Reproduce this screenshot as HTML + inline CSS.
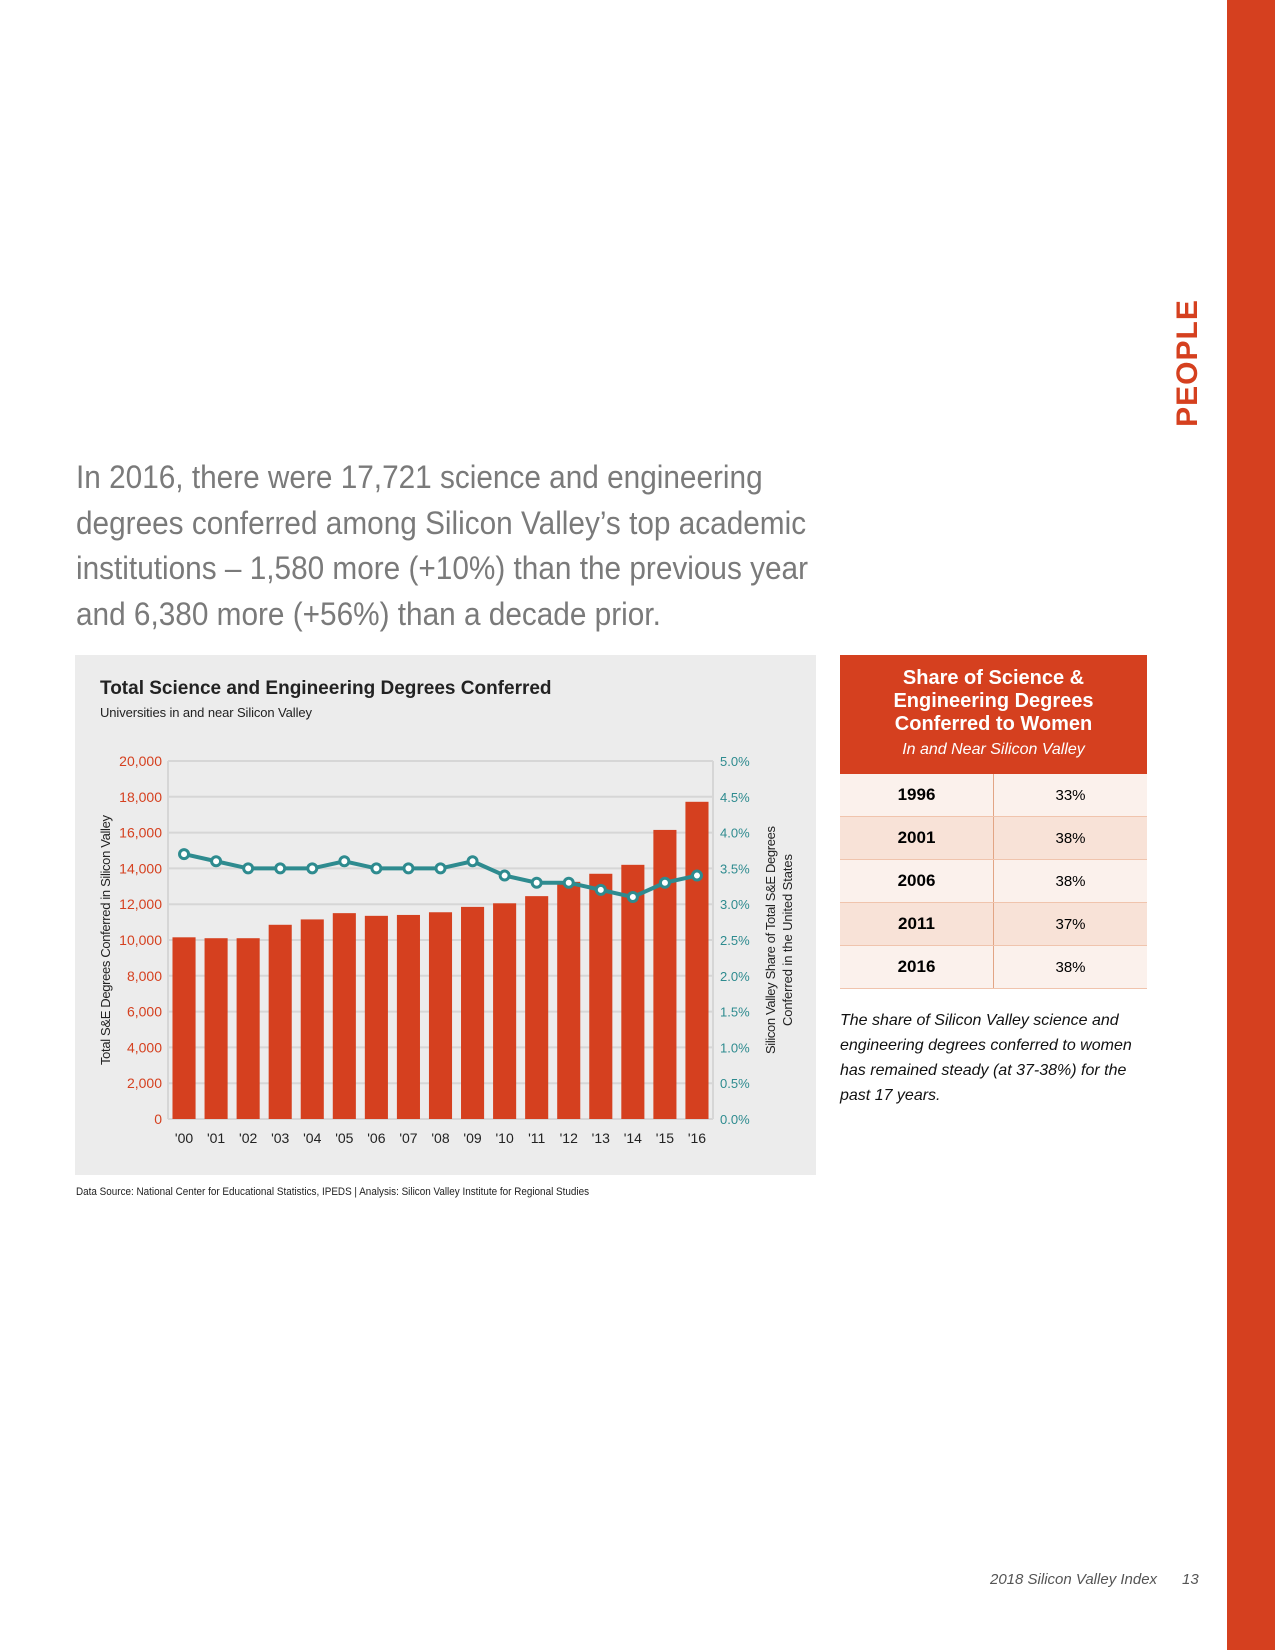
<!DOCTYPE html>
<html><head><meta charset="utf-8">
<style>
body{margin:0;width:1275px;height:1650px;position:relative;background:#fff;font-family:"Liberation Sans",sans-serif;overflow:hidden}
.abs{position:absolute}
#side{left:1227px;top:0;width:48px;height:1650px;background:#d5401f}
#people{left:1188px;top:363px;transform:translate(-50%,-50%) rotate(-90deg);color:#d5401f;font-weight:bold;font-size:30px;font-family:"Liberation Sans",sans-serif;letter-spacing:1px;white-space:nowrap}
#lead{left:76px;top:455px;color:#7a7a7a;font-size:32px;line-height:45.5px;width:1000px}
#lead div{white-space:nowrap;transform:scaleX(0.93);transform-origin:left center;height:45.5px}
#panel{left:75px;top:655px;width:741px;height:520px;background:#ececec}
#src{left:76px;top:1186px;font-size:11px;color:#222;white-space:nowrap;transform:scaleX(0.9);transform-origin:left}
#tbl{left:840px;top:655px;width:307px}
#hdr{background:#d5401f;color:#fff;text-align:center;height:119px;box-sizing:border-box;padding-top:12px}
#hdr b{font-family:"Liberation Sans",sans-serif;font-size:20px;line-height:23px;display:block}
#hdr i{font-size:16px;display:block;margin-top:5px}
.row{display:flex;height:43px;border-bottom:1px solid #f0c4ad;box-sizing:border-box;font-size:17px}
.row div{flex:1;display:flex;align-items:center;justify-content:center}
.row div:first-child{border-right:1px solid #e2a585;font-weight:bold}
.row div:last-child{font-size:15px}
#note{left:840px;top:1008px;font-style:italic;font-size:16px;line-height:25px;color:#111;width:320px}
#foot{left:990px;top:1571px;font-style:italic;font-size:15px;color:#555;white-space:nowrap}
</style></head><body>
<div id="side" class="abs"></div>
<div id="people" class="abs">PEOPLE</div>
<div id="lead" class="abs"><div>In 2016, there were 17,721 science and engineering</div><div>degrees conferred among Silicon Valley’s top academic</div><div>institutions – 1,580 more (+10%) than the previous year</div><div>and 6,380 more (+56%) than a decade prior.</div></div>
<div id="panel" class="abs"></div>
<svg class="abs" style="left:0;top:0" width="1275" height="1650" id="chart">
<text x="100" y="694" font-family="Liberation Sans" font-weight="bold" font-size="19" fill="#222">Total Science and Engineering Degrees Conferred</text>
<text x="100" y="717" font-family="Liberation Sans" font-size="13" fill="#222" textLength="212">Universities in and near Silicon Valley</text>
<text transform="translate(110,940) rotate(-90)" text-anchor="middle" font-family="Liberation Sans" font-size="13" fill="#222" textLength="250">Total S&amp;E Degrees Conferred in Silicon Valley</text>
<text transform="translate(775,940) rotate(-90)" text-anchor="middle" font-family="Liberation Sans" font-size="13" fill="#222"><tspan x="0" dy="0" textLength="228">Silicon Valley Share of Total S&amp;E Degrees</tspan><tspan x="0" dy="17" textLength="172">Conferred in the United States</tspan></text>
<g id="g"></g>
</svg>
<div id="src" class="abs">Data Source: National Center for Educational Statistics, IPEDS | Analysis: Silicon Valley Institute for Regional Studies</div>
<div id="tbl" class="abs">
<div id="hdr"><b>Share of Science &amp;<br>Engineering Degrees<br>Conferred to Women</b><i>In and Near Silicon Valley</i></div>
<div class="row" style="background:#fbf1ec"><div>1996</div><div>33%</div></div>
<div class="row" style="background:#f8e2d7"><div>2001</div><div>38%</div></div>
<div class="row" style="background:#fbf1ec"><div>2006</div><div>38%</div></div>
<div class="row" style="background:#f8e2d7"><div>2011</div><div>37%</div></div>
<div class="row" style="background:#fbf1ec"><div>2016</div><div>38%</div></div>
</div>
<div id="note" class="abs">The share of Silicon Valley science and engineering degrees conferred to women has remained steady (at 37-38%) for the past 17 years.</div>
<div id="foot" class="abs">2018 Silicon Valley Index &nbsp;&nbsp;&nbsp;&nbsp;&nbsp;13</div>
<script>
const categories=["'00","'01","'02","'03","'04","'05","'06","'07","'08","'09","'10","'11","'12","'13","'14","'15","'16"];
const degrees=[10150,10100,10100,10850,11150,11500,11350,11400,11550,11850,12050,12450,13250,13700,14200,16150,17721];
const sharePct=[3.7,3.6,3.5,3.5,3.5,3.6,3.5,3.5,3.5,3.6,3.4,3.3,3.3,3.2,3.1,3.3,3.4];
const leftTicks=[0,2000,4000,6000,8000,10000,12000,14000,16000,18000,20000];
const rightTicks=[0,0.5,1,1.5,2,2.5,3,3.5,4,4.5,5];
const NS='http://www.w3.org/2000/svg';
const g=document.getElementById('g');
const X0=168,X1=713,Y0=1119,Y1=761;
const band=(X1-X0)/categories.length;
const y=v=>Y0-(v/20000)*(Y0-Y1);
const y2=v=>Y0-(v/5)*(Y0-Y1);
const xc=i=>X0+band*(i+0.5);
function mk(t,a){const e=document.createElementNS(NS,t);for(const k in a)e.setAttribute(k,a[k]);g.appendChild(e);return e;}
leftTicks.forEach((t,i)=>{
 const l=mk('line',{x1:X0,x2:X1,y1:y(t),y2:y(t),stroke:'#d6d6d6','stroke-width':2});
 
 
 const tx=mk('text',{x:X0-6,y:y(t)+5,'text-anchor':'end','font-size':14,fill:'#d5401f','font-family':'Liberation Sans'});
 tx.textContent=t.toLocaleString('en-US');
 
 
});
rightTicks.forEach(t=>{
 const tx=mk('text',{x:X1+7,y:y2(t)+5,'font-size':13,fill:'#2e8b8f','font-family':'Liberation Sans'});
 tx.textContent=t.toFixed(1)+'%';
 
 
});
const vl=mk('line',{x1:X0,x2:X0,y1:Y1,y2:Y0,stroke:'#d6d6d6','stroke-width':2});


const vr=mk('line',{x1:X1,x2:X1,y1:Y1,y2:Y0,stroke:'#d6d6d6','stroke-width':2});


const bw=band*0.72;
degrees.forEach((v,i)=>{
 const r=mk('rect',{x:xc(i)-bw/2,y:y(v),width:bw,height:Y0-y(v),fill:'#d5401f'});
 
 
 const tx=mk('text',{x:xc(i),y:Y0+24,'text-anchor':'middle','font-size':14,fill:'#222','font-family':'Liberation Sans'});
 tx.textContent=categories[i];
 
 
});
const pl=mk('polyline',{points:sharePct.map((v,i)=>xc(i)+','+y2(v)).join(' '),fill:'none',stroke:'#2e8b8f','stroke-width':4});


sharePct.forEach((v,i)=>{
 const c=mk('circle',{cx:xc(i),cy:y2(v),r:4.5,fill:'#fff',stroke:'#2e8b8f','stroke-width':3});
 
 
});
</script>
</body></html>
